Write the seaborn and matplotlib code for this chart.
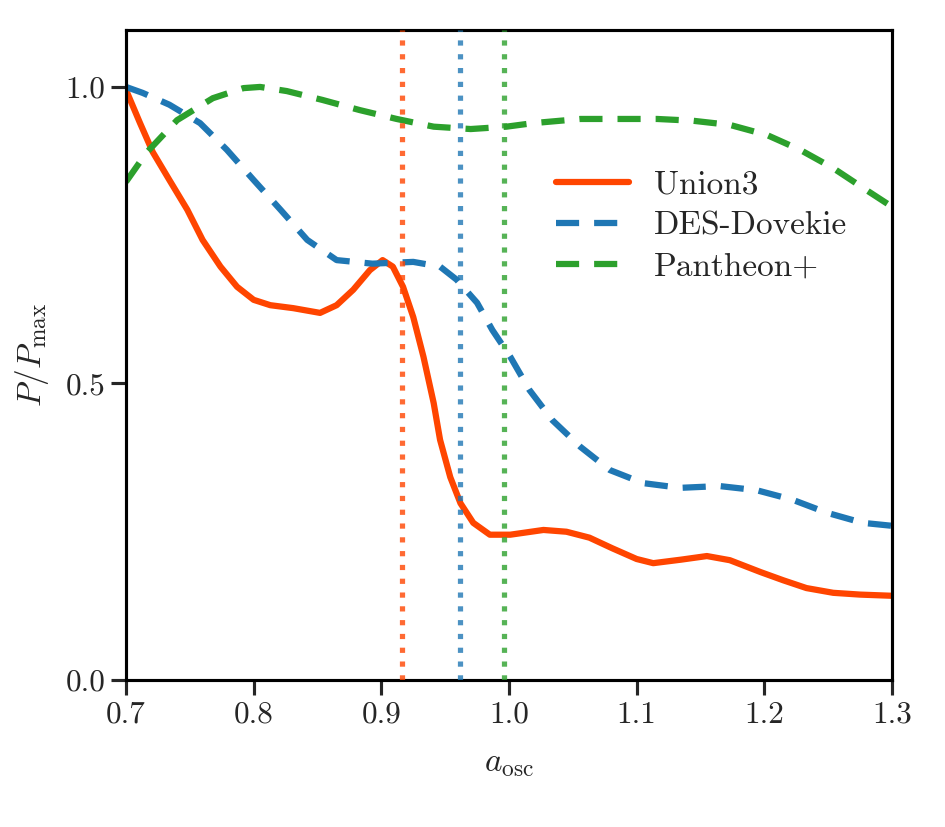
import numpy as np
import pandas as pd
import matplotlib
matplotlib.use("Agg")
import matplotlib.pyplot as plt
import seaborn as sns

# Values
union3_a = [0.700, 0.711, 0.721, 0.734, 0.748, 0.760, 0.774, 0.787, 0.800, 0.813,
            0.831, 0.852, 0.865, 0.878, 0.891, 0.901, 0.909, 0.917, 0.925, 0.933,
            0.941, 0.946, 0.954, 0.962, 0.972, 0.985, 1.001, 1.027, 1.045, 1.063,
            1.081, 1.100, 1.113, 1.135, 1.155, 1.173, 1.197, 1.215, 1.233, 1.254,
            1.275, 1.300]
union3_p = [0.995, 0.939, 0.890, 0.843, 0.793, 0.742, 0.697, 0.663, 0.641, 0.632,
            0.627, 0.619, 0.632, 0.658, 0.691, 0.708, 0.697, 0.663, 0.612, 0.545,
            0.467, 0.405, 0.342, 0.298, 0.265, 0.245, 0.245, 0.253, 0.250, 0.240,
            0.222, 0.204, 0.197, 0.203, 0.209, 0.202, 0.182, 0.168, 0.155, 0.147,
            0.144, 0.142]

des_a = [0.700, 0.713, 0.734, 0.758, 0.779, 0.800, 0.821, 0.842, 0.865, 0.893,
         0.925, 0.946, 0.959, 0.975, 0.987, 1.001, 1.016, 1.034, 1.056, 1.079,
         1.105, 1.134, 1.165, 1.194, 1.222, 1.249, 1.277, 1.300]
des_p = [1.000, 0.990, 0.970, 0.939, 0.894, 0.843, 0.793, 0.742, 0.708, 0.702,
         0.705, 0.697, 0.675, 0.636, 0.590, 0.545, 0.489, 0.438, 0.393, 0.354,
         0.332, 0.324, 0.327, 0.320, 0.304, 0.282, 0.265, 0.260]

pantheon_a = [0.700, 0.716, 0.740, 0.768, 0.792, 0.805, 0.826, 0.854, 0.883, 0.912,
              0.941, 0.970, 0.998, 1.019, 1.056, 1.116, 1.144, 1.173, 1.202, 1.228,
              1.254, 1.280, 1.300]
pantheon_p = [0.840, 0.889, 0.944, 0.981, 0.998, 1.000, 0.993, 0.978, 0.961, 0.946,
              0.933, 0.929, 0.933, 0.939, 0.946, 0.946, 0.943, 0.936, 0.919, 0.894,
              0.863, 0.826, 0.798]

# best-fit a_osc markers (vertical dotted lines)
best_a = [0.916, 0.9615, 0.996]

labels = ["Union3", "DES-Dovekie", "Pantheon+"]
colors = ["#ff4500", "#1f77b4", "#2ca02c"]

sns.set_style("ticks")
plt.rcParams["font.family"] = "serif"
plt.rcParams["font.serif"] = ["cmr10", "DejaVu Serif"]
plt.rcParams["mathtext.fontset"] = "cm"
plt.rcParams["axes.formatter.use_mathtext"] = True

fig = plt.figure(figsize=(6.3, 827 / 150), dpi=150)
ax = fig.add_axes([126 / 945, 147 / 827, 766 / 945, 650 / 827])

series = [(union3_a, union3_p), (des_a, des_p), (pantheon_a, pantheon_p)]
styles = ["-", (0, (3.7, 2.4)), (0, (3.7, 2.4))]
for (a, p), lab, col, ls in zip(series, labels, colors, styles):
    df = pd.DataFrame({"a": a, "P": p})
    sns.lineplot(data=df, x="a", y="P", ax=ax, color=col, lw=3,
                 linestyle=ls, label=lab, estimator=None, sort=False)

for xv, col in zip(best_a, colors):
    ax.axvline(xv, color=col, ls=":", lw=2.5, alpha=0.8, zorder=5)

ax.set_xlim(0.7, 1.3)
ax.set_ylim(0, 1.096)
ax.set_xticks([0.7, 0.8, 0.9, 1.0, 1.1, 1.2, 1.3])
ax.set_yticks([0.0, 0.5, 1.0])
ax.set_xticklabels(["0.7", "0.8", "0.9", "1.0", "1.1", "1.2", "1.3"])
ax.set_yticklabels(["0.0", "0.5", "1.0"])
ax.set_xlabel(r"$a_{\rm osc}$", fontsize=16, labelpad=10)
ax.set_ylabel(r"$P/P_{\rm max}$", fontsize=16, labelpad=7)
ax.tick_params(labelsize=15, length=7, width=1.5, direction="out", pad=3)
for s in ax.spines.values():
    s.set_linewidth(1.5)
    s.set_color("black")

ax.legend(loc="upper left", bbox_to_anchor=(0.544, 0.805), frameon=False,
          fontsize=16, handlelength=2.2, handletextpad=0.75, labelspacing=0.35,
          borderaxespad=0)

fig.savefig("out.png", dpi=150)
